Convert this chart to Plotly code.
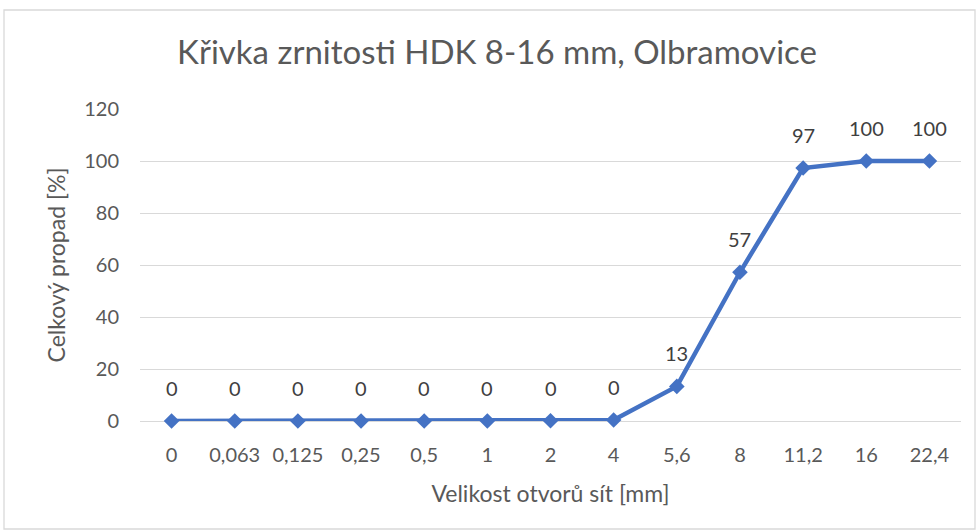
import plotly.graph_objects as go

categories = ["0", "0,063", "0,125", "0,25", "0,5", "1", "2", "4", "5,6", "8", "11,2", "16", "22,4"]
values = [0, 0, 0, 0, 0, 0, 0.1, 0.4, 13.3, 57.2, 97.3, 100, 100]
labels = [str(round(v)) for v in values]

FONT = "Lato"
TXT = "#595959"
W, H = 978, 530
L, R, T, B = 140, 17, 109, 109
pw = W - L - R
ph = H - T - B

fig = go.Figure(go.Scatter(
    x=categories, y=values, mode="lines+markers",
    line=dict(color="#4472C4", width=4.5),
    marker=dict(symbol="diamond", size=12, color="#4472C4"),
    cliponaxis=False, showlegend=False,
))

for i, (v, t) in enumerate(zip(values, labels)):
    fig.add_annotation(x=i, y=v, text=t, showarrow=False, yshift=33,
                       font=dict(family=FONT, size=20, color="#404040"))

fig.update_layout(
    width=W, height=H,
    margin=dict(l=L, r=R, t=T, b=B),
    paper_bgcolor="white", plot_bgcolor="white",
    title=dict(text="Křivka zrnitosti HDK 8-16 mm, Olbramovice", automargin=False,
               x=497 / W, xanchor="center", y=1 - 52 / H, yanchor="middle",
               font=dict(family=FONT, size=33, color=TXT)),
    xaxis=dict(type="category", range=[-0.5, 12.5], showgrid=False, ticks="", showline=False,
               automargin=False, ticklabelstandoff=20,
               tickfont=dict(family=FONT, size=20, color=TXT),
               title=dict(text="Velikost otvorů sít [mm]", standoff=20,
                          font=dict(family=FONT, size=23, color=TXT))),
    yaxis=dict(range=[0, 120], dtick=20, showgrid=True, gridcolor="#D9D9D9", gridwidth=1.3,
               zeroline=True, zerolinecolor="#D9D9D9", zerolinewidth=1.3, ticks="",
               automargin=False,
               tickfont=dict(family=FONT, size=20, color=TXT), ticklabelstandoff=20,
               title=dict(text="Celkový propad [%]", standoff=12,
                          font=dict(family=FONT, size=23, color=TXT))),
    shapes=[dict(type="rect", xref="paper", yref="paper",
                 x0=(4 - L) / pw, x1=(975 - L) / pw,
                 y0=(H - T - 529) / ph, y1=(H - T - 10) / ph,
                 line=dict(color="#D9D9D9", width=1.3), fillcolor="rgba(0,0,0,0)", layer="below")],
)

fig.write_html("out.html", config={"displayModeBar": False},
               post_script="document.body.style.margin='0';document.body.style.overflow='hidden';")
